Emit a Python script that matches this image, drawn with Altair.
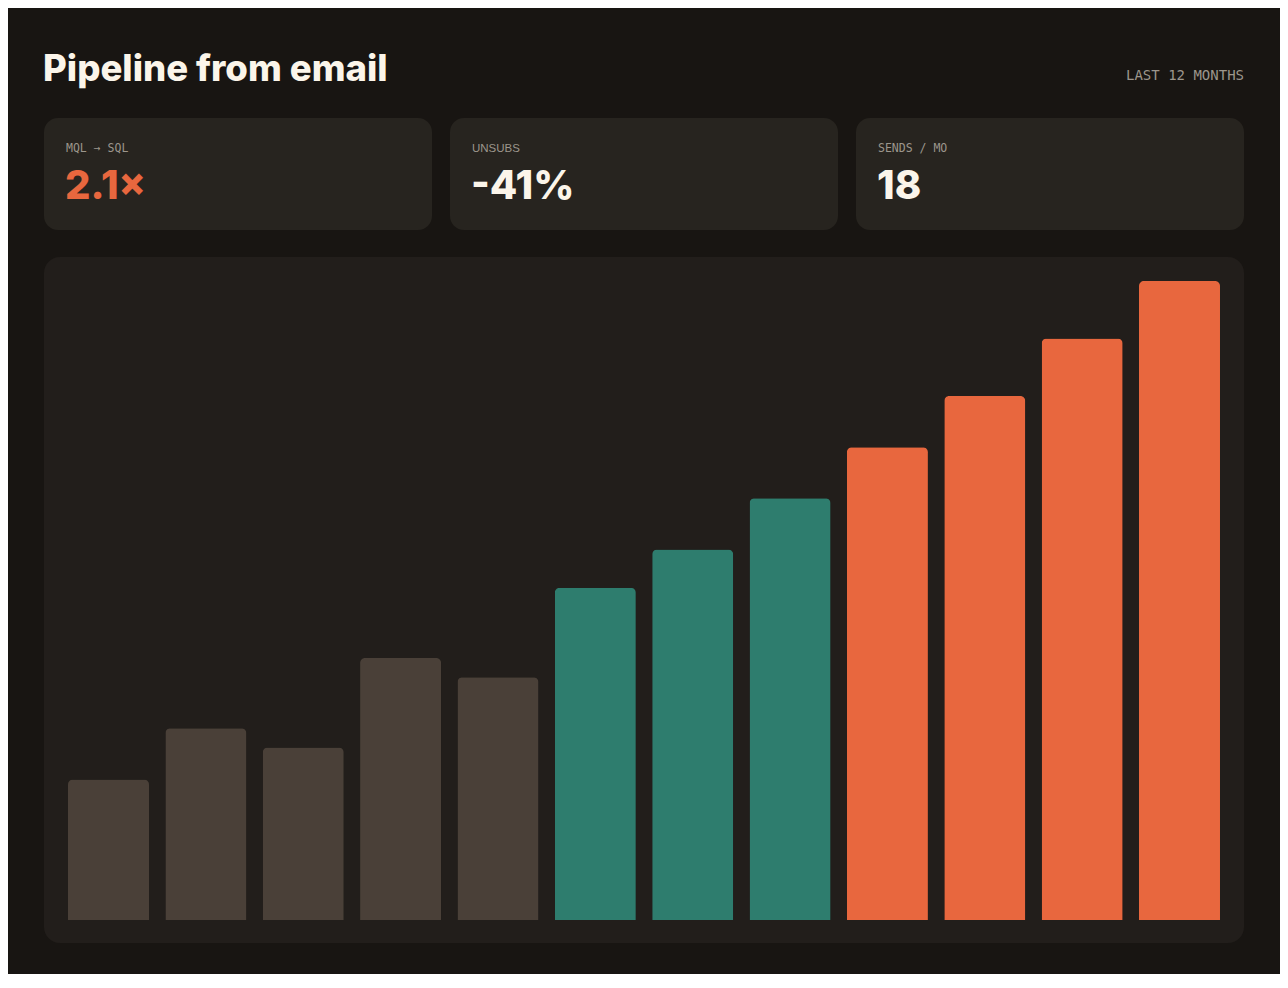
import altair as alt
import pandas as pd

# ---- data ----
months = ["Jan", "Feb", "Mar", "Apr", "May", "Jun", "Jul", "Aug", "Sep", "Oct", "Nov", "Dec"]
pipeline = [22, 30, 27, 41, 38, 52, 58, 66, 74, 82, 91, 100]
phase = ["before", "before", "before", "before", "before",
         "pilot", "pilot", "pilot",
         "scaled", "scaled", "scaled", "scaled"]

phase_domain = ["before", "pilot", "scaled"]
phase_colors = ["#4a4038", "#2e7d6e", "#e8673e"]

kpi_labels = ["MQL → SQL", "UNSUBS", "SENDS / MO"]
kpi_values = ["2.1×", "-41%", "18"]

title_text = "Pipeline from email"
subtitle_text = "LAST 12 MONTHS"

BG = "#181512"
CARD = "#27241f"
PANEL = "#221e1b"
CREAM = "#fbf5ea"
MUTED = "#9c968c"
ORANGE = "#e8673e"

W, H = 1152, 639

df = pd.DataFrame({"month": months, "value": pipeline, "phase": phase})
one = alt.Data(values=[{"a": 1}])

# panel behind bars
panel = alt.Chart(one).mark_rect(cornerRadius=16, color=PANEL).encode(
    x=alt.value(-24), x2=alt.value(W + 24), y=alt.value(-24), y2=alt.value(H + 23)
)

layers = [panel]

# KPI cards
card_x = [(-24, 364), (382, 770), (788, 1176)]
for i, (x0, x1) in enumerate(card_x):
    layers.append(
        alt.Chart(one).mark_rect(cornerRadius=14, color=CARD).encode(
            x=alt.value(x0), x2=alt.value(x1), y=alt.value(-163), y2=alt.value(-51)
        )
    )
    lab_font = "Liberation Sans" if kpi_labels[i] == "UNSUBS" else "DejaVu Sans Mono"
    layers.append(
        alt.Chart(one).mark_text(
            text=kpi_labels[i], align="left", baseline="alphabetic",
            font=lab_font, fontSize=11.5, color=MUTED
        ).encode(x=alt.value(x0 + 22), y=alt.value(-129))
    )
    layers.append(
        alt.Chart(one).mark_text(
            text=kpi_values[i], align="left", baseline="alphabetic",
            font="Inter", fontWeight=800, fontSize=40,
            color=ORANGE if i == 0 else CREAM
        ).encode(x=alt.value(x0 + 21), y=alt.value(-82))
    )

# title & subtitle
layers.append(
    alt.Chart(one).mark_text(
        text=title_text, align="left", baseline="alphabetic",
        font="Inter", fontWeight=800, fontSize=36.5, color=CREAM
    ).encode(x=alt.value(-25), y=alt.value(-200))
)
layers.append(
    alt.Chart(one).mark_text(
        text=subtitle_text, align="right", baseline="alphabetic",
        font="DejaVu Sans Mono", fontSize=14, color=MUTED
    ).encode(x=alt.value(W + 24), y=alt.value(-201))
)

bars = alt.Chart(df).mark_bar(cornerRadiusTopLeft=5, cornerRadiusTopRight=5).encode(
    x=alt.X("month:N", sort=months, axis=None,
            scale=alt.Scale(paddingInner=0.168, paddingOuter=0)),
    y=alt.Y("value:Q", axis=None, scale=alt.Scale(domain=[0, 100], nice=False)),
    color=alt.Color("phase:N", legend=None,
                    scale=alt.Scale(domain=phase_domain, range=phase_colors)),
)
layers.append(bars)

chart = alt.layer(*layers).properties(
    width=W, height=H,
    padding={"left": 60, "top": 273, "right": 60, "bottom": 54},
    autosize=alt.AutoSizeParams(type="none"),
    background=BG,
).configure_view(stroke=None)

chart.save("out.html", embed_options={"renderer": "svg", "actions": False})
